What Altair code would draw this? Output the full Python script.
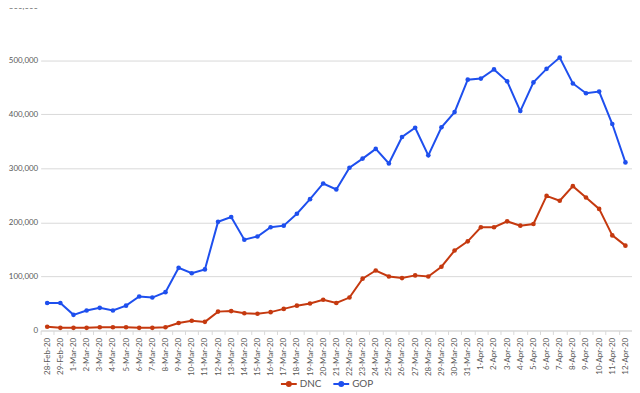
import altair as alt
import pandas as pd

dates = ["28-Feb-20", "29-Feb-20"] + [f"{d}-Mar-20" for d in range(1, 32)] + [f"{d}-Apr-20" for d in range(1, 13)]

gop = [51000, 51000, 29000, 37000, 42000, 37000, 46000, 63000, 61000, 71000,
       116000, 106000, 113000, 201000, 210000, 168000, 174000, 191000, 194000, 216000,
       243000, 272000, 261000, 301000, 318000, 336000, 309000, 358000, 375000, 324000,
       376000, 404000, 464000, 466000, 483000, 461000, 406000, 459000, 484000, 505000,
       457000, 439000, 442000, 382000, 311000]

dnc = [7000, 5000, 5000, 5000, 6000, 6000, 6000, 5000, 5000, 6000,
       14000, 18000, 16000, 35000, 36000, 32000, 31000, 34000, 40000, 46000,
       50000, 57000, 51000, 61000, 96000, 111000, 100000, 97000, 102000, 100000,
       118000, 148000, 165000, 191000, 191000, 202000, 194000, 197000, 249000, 240000,
       267000, 246000, 225000, 176000, 157000]

series = ["DNC", "GOP"]
colors = ["#C5390F", "#1E4FEE"]

rows = []
for i, d in enumerate(dates):
    rows.append({"date": d, "series": "DNC", "value": dnc[i]})
    rows.append({"date": d, "series": "GOP", "value": gop[i]})
df = pd.DataFrame(rows)

font = "Lato"
sym = "M-1,0H1M-0.25,0a0.25,0.25 0 1,0 0.5,0a0.25,0.25 0 1,0 -0.5,0"

x = alt.X("date:O", sort=dates, title=None,
          scale=alt.Scale(paddingInner=0, paddingOuter=0),
          axis=alt.Axis(labelAngle=270, labelFontSize=8, labelColor="#595959",
                        labelFont=font, domainColor="#d9d9d9", tickColor="#d9d9d9",
                        tickBand="extent", tickSize=4, labelPadding=3, grid=False))
y = alt.Y("value:Q", title=None,
          scale=alt.Scale(domain=[0, 600000], nice=False),
          axis=alt.Axis(values=[0, 100000, 200000, 300000, 400000, 500000, 600000],
                        format=",.0f", labelFontSize=8, labelColor="#595959", labelFont=font,
                        domain=False, ticks=False, gridColor="#d9d9d9", labelPadding=3))
color = alt.Color("series:N", scale=alt.Scale(domain=series, range=colors), title=None,
                  legend=alt.Legend(orient="none", direction="horizontal", legendX=242, legendY=373,
                                    symbolType=sym, symbolSize=256, symbolStrokeWidth=2,
                                    labelFontSize=10, labelColor="#595959", labelFont=font,
                                    columnPadding=8, labelOffset=2))

line = alt.Chart(df).mark_line(strokeWidth=2).encode(x=x, y=y, color=color)
pts = alt.Chart(df).mark_point(filled=True, size=22, opacity=1).encode(
    x=x, y=y, color=alt.Color("series:N", scale=alt.Scale(domain=series, range=colors), legend=None))

chart = alt.layer(line, pts).properties(
    width=598, height=328,
    autosize=alt.AutoSizeParams(type="none"),
    padding={"left": 33, "top": -4, "right": 0, "bottom": 58},
).configure_view(stroke=None)

chart.save("out.html", embed_options={"renderer": "svg", "actions": False})
